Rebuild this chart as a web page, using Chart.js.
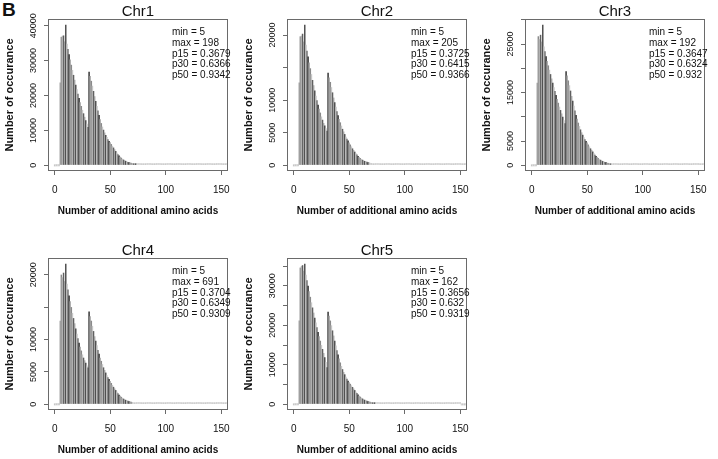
<!DOCTYPE html>
<html>
<head>
<meta charset="utf-8">
<script src="https://cdn.jsdelivr.net/npm/chart.js@4.4.1/dist/chart.umd.min.js"></script>
<style>
  html, body { margin: 0; padding: 0; background: #fff; }
  body { width: 718px; height: 459px; position: relative; overflow: hidden; }
  .panel { position: absolute; width: 239px; height: 220px; }
  .panel canvas { display: block; }
  #tag { position: absolute; left: 2px; top: 0; font: bold 19px/19px "Liberation Sans", Arial, sans-serif; color: #111; }
</style>
</head>
<body>
<div id="tag">B</div>
<div class="panel" style="left:0px;top:0px"><canvas id="c0" width="239" height="220"></canvas></div>
<div class="panel" style="left:239px;top:0px"><canvas id="c1" width="239" height="220"></canvas></div>
<div class="panel" style="left:477px;top:0px"><canvas id="c2" width="239" height="220"></canvas></div>
<div class="panel" style="left:0px;top:239px"><canvas id="c3" width="239" height="220"></canvas></div>
<div class="panel" style="left:239px;top:239px"><canvas id="c4" width="239" height="220"></canvas></div>
<script>
const FONT = '"Liberation Sans", Arial, sans-serif';

const chrNames = ["Chr1", "Chr2", "Chr3", "Chr4", "Chr5"];
const statMin = [5, 5, 5, 5, 5];
const statMax = [198, 205, 192, 691, 162];
const statP15 = ["0.3679", "0.3725", "0.3647", "0.3704", "0.3656"];
const statP30 = ["0.6366", "0.6415", "0.6324", "0.6349", "0.632"];
const statP50 = ["0.9342", "0.9366", "0.932", "0.9309", "0.9319"];

// counts per number of additional amino acids, index = 0, 1, 2 ... 155
const chr1Counts = [
  0, 0, 0, 0, 0, 23700, 36800, 37100, 37200, 35500,
  40300, 34800, 33300, 31800, 30300, 28800, 27300, 25900, 24500, 23100,
  21800, 20500, 19300, 18100, 17000, 15900, 14900, 13900, 12900, 11900,
  11000, 26800, 25600, 24200, 22800, 21300, 19800, 18400, 17000, 15700,
  14400, 13200, 12100, 11100, 10200, 9400, 8700, 8100, 7500, 7000,
  6600, 6100, 5600, 5100, 4600, 4100, 3600, 3200, 2800, 2500,
  2200, 1900, 1650, 1450, 1280, 1130, 1000, 900, 800, 720,
  650, 580, 520, 470, 430, 390, 360, 330, 300, 280,
  260, 240, 220, 200, 190, 170, 160, 150, 140, 130,
  120, 110, 100, 95, 90, 85, 80, 75, 70, 66,
  62, 58, 55, 52, 49, 46, 43, 41, 39, 37,
  35, 33, 31, 29, 27, 26, 24, 23, 22, 20,
  19, 18, 17, 16, 15, 14, 13, 12, 12, 11,
  10, 10, 9, 9, 8, 8, 7, 7, 6, 6,
  6, 5, 5, 5, 4, 4, 4, 3, 3, 3,
  3, 2, 2, 2, 2, 2
];
const chr2Counts = [
  0, 0, 0, 0, 0, 12700, 19800, 19900, 20200, 19000,
  21600, 18500, 17600, 16700, 15800, 14900, 14000, 13100, 12300, 11500,
  10700, 10000, 9300, 8700, 8100, 7500, 7000, 6500, 6100, 5700,
  5300, 14200, 13500, 12800, 12000, 11200, 10400, 9700, 9000, 8300,
  7700, 7100, 6600, 6100, 5600, 5200, 4800, 4400, 4100, 3800,
  3500, 3200, 2900, 2600, 2350, 2100, 1850, 1650, 1450, 1280,
  1120, 980, 860, 760, 670, 600, 540, 480, 430, 390,
  350, 310, 280, 250, 230, 210, 190, 175, 160, 150,
  140, 130, 120, 110, 100, 95, 88, 82, 76, 70,
  65, 60, 56, 52, 48, 45, 42, 39, 36, 34,
  32, 30, 28, 26, 25, 23, 22, 20, 19, 18,
  17, 16, 15, 14, 13, 12, 12, 11, 10, 10,
  9, 9, 8, 8, 7, 7, 6, 6, 6, 5,
  5, 5, 4, 4, 4, 4, 3, 3, 3, 3,
  3, 2, 2, 2, 2, 2, 2, 2, 1, 1,
  1, 1, 1, 1, 1, 1
];
const chr3Counts = [
  0, 0, 0, 0, 0, 17000, 26600, 26000, 26900, 25500,
  29000, 24500, 23500, 22500, 21500, 20600, 19700, 18800, 17900, 17000,
  16100, 15300, 14500, 13700, 12900, 12100, 11400, 10700, 10000, 9300,
  8700, 19400, 18500, 17500, 16500, 15400, 14300, 13300, 12300, 11300,
  10400, 9600, 8800, 8100, 7400, 6800, 6300, 5800, 5400, 5000,
  4700, 4300, 3900, 3500, 3200, 2850, 2500, 2200, 1950, 1700,
  1500, 1300, 1150, 1000, 880, 780, 700, 630, 560, 500,
  450, 400, 360, 330, 300, 280, 260, 240, 220, 200,
  185, 170, 155, 145, 135, 125, 115, 105, 98, 90,
  84, 78, 72, 67, 62, 58, 54, 50, 47, 44,
  41, 38, 36, 34, 32, 30, 28, 26, 24, 23,
  21, 20, 19, 18, 17, 16, 15, 14, 13, 12,
  11, 11, 10, 9, 9, 8, 8, 7, 7, 6,
  6, 6, 5, 5, 5, 4, 4, 4, 4, 3,
  3, 3, 3, 3, 2, 2, 2, 2, 2, 2,
  2, 1, 1, 1, 1, 1
];
const chr4Counts = [
  0, 0, 0, 0, 0, 12900, 20000, 19600, 20300, 19000,
  21700, 18600, 17700, 16800, 15900, 15000, 14100, 13300, 12500, 11700,
  10900, 10200, 9500, 8900, 8300, 7700, 7200, 6800, 6400, 6000,
  5700, 14300, 13600, 12900, 12100, 11300, 10500, 9800, 9100, 8400,
  7800, 7200, 6700, 6200, 5700, 5300, 4900, 4500, 4200, 3900,
  3600, 3300, 3000, 2700, 2450, 2200, 1950, 1700, 1500, 1320,
  1160, 1010, 880, 780, 690, 610, 550, 490, 440, 400,
  360, 320, 290, 260, 240, 220, 200, 185, 170, 155,
  145, 135, 125, 115, 105, 98, 90, 84, 78, 72,
  67, 62, 58, 54, 50, 47, 44, 41, 38, 36,
  34, 32, 30, 28, 26, 25, 23, 22, 21, 20,
  19, 18, 17, 16, 15, 14, 14, 13, 12, 12,
  11, 11, 10, 10, 9, 9, 8, 8, 8, 7,
  7, 7, 6, 6, 6, 6, 5, 5, 5, 5,
  4, 4, 4, 4, 4, 3, 3, 3, 3, 3,
  3, 3, 2, 2, 2, 2
];
const chr5Counts = [
  0, 0, 0, 0, 0, 21200, 34600, 35000, 35200, 33800,
  35600, 32800, 31400, 30000, 28600, 27200, 25800, 24500, 23200, 21900,
  20700, 19500, 18300, 17200, 16100, 15000, 14000, 13000, 11900, 10700,
  9400, 23400, 22400, 21200, 20000, 18700, 17400, 16100, 14900, 13700,
  12600, 11600, 10600, 9700, 8900, 8200, 7600, 7000, 6500, 6000,
  5600, 5200, 4800, 4400, 4000, 3600, 3200, 2850, 2500, 2200,
  1950, 1700, 1480, 1300, 1150, 1020, 910, 810, 720, 650,
  580, 520, 470, 420, 380, 350, 320, 290, 270, 250,
  230, 210, 195, 180, 165, 150, 140, 130, 120, 110,
  100, 92, 85, 78, 72, 66, 61, 56, 52, 48,
  44, 41, 38, 35, 32, 30, 28, 26, 24, 22,
  20, 19, 17, 16, 15, 14, 13, 12, 11, 10,
  9, 9, 8, 7, 7, 6, 6, 5, 5, 5,
  4, 4, 4, 3, 3, 3, 3, 2, 2, 2,
  2, 2, 2, 1, 1, 1, 1, 1, 1, 1,
  1, 0, 0, 0, 0, 0
];
const allCounts = [chr1Counts, chr2Counts, chr3Counts, chr4Counts, chr5Counts];

const xTicks = [0, 50, 100, 150];
const yTicks = [
  [0, 10000, 20000, 30000, 40000],
  [0, 5000, 10000, 15000, 20000],
  [0, 5000, 10000, 15000, 20000, 25000, 30000],
  [0, 5000, 10000, 15000, 20000],
  [0, 5000, 10000, 15000, 20000, 25000, 30000, 35000]
];
// R drops the labels that would overlap
const yShown = [
  [0, 10000, 20000, 30000, 40000],
  [0, 5000, 10000, 20000],
  [0, 5000, 15000, 25000],
  [0, 5000, 10000, 20000],
  [0, 10000, 20000, 30000]
];

const shades = ["#a2a2a2", "#505050", "#bdbdbd", "#747474", "#353535", "#adadad", "#8a8a8a", "#c6c6c6", "#606060"];
function barColor(ctx) {
  const v = ctx.raw ? ctx.raw.y : 0;
  if (v < 400) return ctx.dataIndex % 2 ? "#dadada" : "#c6c6c6";
  return shades[ctx.dataIndex % shades.length];
}

// box round the plot region, like R's box()
const frameBox = {
  id: "frameBox",
  afterDraw(chart) {
    const a = chart.chartArea, ctx = chart.ctx;
    ctx.save();
    ctx.strokeStyle = "#6a6a6a";
    ctx.lineWidth = 1;
    ctx.strokeRect(Math.round(a.left) + 0.5, Math.round(a.top) + 0.5,
      Math.round(a.right - a.left) - 1, Math.round(a.bottom - a.top) - 1);
    ctx.restore();
  }
};

const statsText = {
  id: "statsText",
  afterDraw(chart, args, opts) {
    const ctx = chart.ctx, a = chart.chartArea;
    ctx.save();
    ctx.font = "10px " + FONT;
    ctx.fillStyle = "#111";
    ctx.textBaseline = "middle";
    opts.lines.forEach((t, i) => ctx.fillText(t, a.left + 124, a.top + 13 + i * 10.9));
    ctx.restore();
  }
};

function makeChart(i) {
  const counts = allCounts[i];
  const peak = Math.max(...counts);
  new Chart(document.getElementById("c" + i), {
    type: "bar",
    data: {
      datasets: [{
        data: counts.map((c, x) => ({ x: x, y: c })),
        backgroundColor: barColor,
        borderWidth: 0,
        barPercentage: 1.35,
        categoryPercentage: 1,
        minBarLength: 2
      }]
    },
    options: {
      responsive: false,
      animation: false,
      devicePixelRatio: 1,
      layout: { padding: { right: 5 } },
      plugins: {
        legend: { display: false },
        tooltip: { enabled: false },
        title: {
          display: true,
          text: chrNames[i],
          fullSize: false,
          color: "#111",
          font: { family: FONT, size: 15, weight: "normal", lineHeight: 1 },
          padding: { top: 4, bottom: 0 }
        },
        statsText: {
          lines: [
            "min = " + statMin[i],
            "max = " + statMax[i],
            "p15 = " + statP15[i],
            "p30 = " + statP30[i],
            "p50 = " + statP50[i]
          ]
        }
      },
      scales: {
        x: {
          type: "linear",
          min: -6,
          max: 156,
          offset: false,
          afterBuildTicks: (s) => { s.ticks = xTicks.map((v) => ({ value: v })); },
          afterFit: (s) => { s.height = 49; },
          grid: { offset: false, drawOnChartArea: false, tickLength: 4, color: "#6a6a6a" },
          border: { display: false },
          ticks: { autoSkip: false, maxRotation: 0, padding: 9, color: "#111", font: { family: FONT, size: 10 } },
          title: {
            display: true,
            text: "Number of additional amino acids",
            color: "#111",
            font: { family: FONT, size: 10, weight: "bold" },
            padding: { top: 0, bottom: 3 }
          }
        },
        y: {
          min: -0.04 * peak,
          max: 1.04 * peak,
          afterBuildTicks: (s) => { s.ticks = yTicks[i].map((v) => ({ value: v })); },
          afterFit: (s) => { s.width = 48; },
          grid: { drawOnChartArea: false, tickLength: 4, color: "#6a6a6a" },
          border: { display: false },
          ticks: {
            autoSkip: false,
            minRotation: 90,
            maxRotation: 90,
            crossAlign: "center",
            padding: -2.5,
            color: "#111",
            font: { family: FONT, size: 9 },
            callback: (v) => (yShown[i].includes(v) ? String(v) : "")
          },
          title: {
            display: true,
            text: "Number of occurance",
            color: "#111",
            font: { family: FONT, size: 11, weight: "bold" },
            padding: { top: 3, bottom: 0 }
          }
        }
      }
    },
    plugins: [frameBox, statsText]
  });
}

chrNames.forEach((n, i) => makeChart(i));
</script>
</body>
</html>
